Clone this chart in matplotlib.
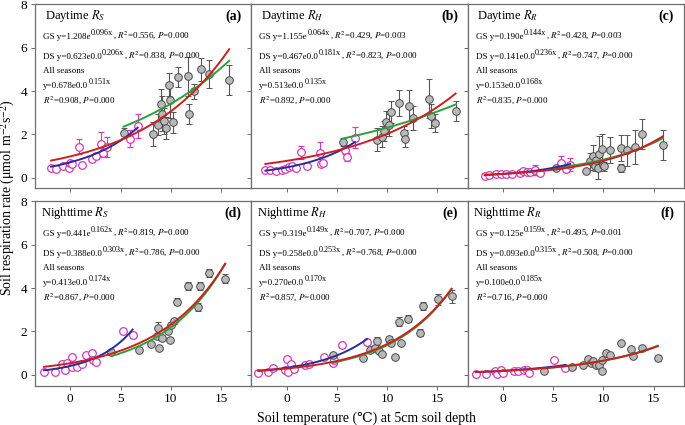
import numpy as np
import matplotlib.pyplot as plt

plt.rcParams['font.family'] = ['Liberation Serif', 'DejaVu Serif', 'DejaVu Sans']
plt.rcParams['mathtext.fontset'] = 'stix'

# ---- данные ----
# (a) Daytime Rs
ds_x_a = [-1.9, -1.4, -0.7, -0.1, 0.0, 0.2, 0.9, 1.2, 2.2, 2.6, 3.1, 3.3, 3.7, 5.9, 6.7]
ds_y_a = [0.45, 0.42, 0.52, 0.45, 0.68, 0.62, 1.42, 0.58, 0.85, 1.0, 1.55, 1.15, 1.42, 1.8, 2.37]
ds_e_a = [0.03, 0.03, 0.05, 0.1, 0.05, 0.05, 0.35, 0.05, 0.1, 0.15, 0.55, 0.2, 0.45, 0.4, 0.55]
gs_x_a = [5.3, 8.25, 8.7, 9.0, 9.1, 9.3, 9.5, 9.8, 9.9, 10.2, 10.7, 11.7, 11.8, 12.3, 13.0, 13.8, 15.8]
gs_y_a = [2.06, 2.0, 2.45, 3.38, 2.95, 2.6, 2.3, 4.3, 3.57, 2.55, 4.65, 4.68, 2.95, 3.98, 5.0, 4.8, 4.5]
gs_e_a = [0.25, 0.55, 0.5, 0.7, 0.8, 0.6, 0.5, 0.55, 0.8, 0.5, 0.45, 0.9, 0.45, 0.35, 0.55, 0.65, 0.7]

# (b) Daytime Rh
ds_x_b = [-2.1, -1.6, -1.0, -0.5, -0.2, 0.2, 0.5, 0.9, 1.4, 2.0, 3.3, 3.4, 3.6, 5.8, 6.0, 6.8]
ds_y_b = [0.37, 0.37, 0.33, 0.35, 0.42, 0.5, 0.52, 0.46, 1.17, 0.55, 1.13, 0.62, 0.7, 1.3, 0.95, 1.85]
ds_e_b = [0.03, 0.03, 0.03, 0.05, 0.05, 0.05, 0.05, 0.05, 0.3, 0.05, 0.5, 0.1, 0.1, 0.2, 0.2, 0.5]
gs_x_b = [5.6, 9.0, 9.5, 9.65, 9.9, 10.2, 10.4, 11.2, 11.7, 11.8, 12.2, 12.6, 14.2, 14.4, 14.8, 16.8]
gs_y_b = [1.64, 1.76, 1.9, 2.15, 2.55, 2.42, 3.02, 3.46, 2.07, 1.8, 3.33, 2.76, 3.65, 2.85, 2.53, 3.07]
gs_e_b = [0.2, 0.55, 0.5, 0.45, 0.55, 0.5, 0.5, 0.6, 0.3, 0.4, 0.7, 0.55, 0.9, 0.55, 0.4, 0.45]

# (c) Daytime Rr
ds_x_c = [-1.8, -1.4, -0.7, -0.2, 0.35, 0.9, 1.7, 2.0, 2.4, 2.7, 3.2, 3.7, 5.8, 6.3, 6.7]
ds_y_c = [0.09, 0.12, 0.16, 0.17, 0.18, 0.15, 0.2, 0.3, 0.28, 0.24, 0.35, 0.22, 0.7, 0.42, 0.6]
ds_e_c = [0.02, 0.02, 0.03, 0.03, 0.03, 0.03, 0.05, 0.1, 0.1, 0.05, 0.25, 0.05, 0.3, 0.15, 0.3]
gs_x_c = [5.3, 8.3, 8.7, 9.0, 9.2, 9.3, 9.5, 9.6, 9.9, 9.95, 10.1, 10.6, 11.7, 11.75, 12.35, 13.1, 13.8, 15.9]
gs_y_c = [0.45, 0.29, 0.75, 0.99, 0.52, 0.8, 0.45, 1.11, 1.33, 0.6, 0.52, 1.26, 1.37, 0.45, 1.26, 1.42, 2.02, 1.5]
gs_e_c = [0.1, 0.05, 0.4, 0.5, 0.2, 0.3, 0.5, 0.8, 0.7, 0.2, 0.2, 0.6, 0.6, 0.2, 0.7, 0.8, 0.7, 0.7]

# (d) Nighttime Rs
ds_x_d = [-2.6, -1.55, -0.8, -0.5, -0.3, 0.15, 0.2, 0.7, 1.15, 1.55, 2.2, 2.3, 2.6, 5.2, 6.2]
ds_y_d = [0.11, 0.14, 0.5, 0.23, 0.55, 0.8, 0.37, 0.35, 0.48, 0.89, 1.0, 0.7, 0.6, 2.02, 1.83]
ds_e_d = [0.03, 0.03, 0.04, 0.03, 0.04, 0.05, 0.04, 0.04, 0.04, 0.05, 0.05, 0.05, 0.05, 0.08, 0.15]
gs_x_d = [4.1, 6.8, 8.0, 8.6, 8.7, 8.8, 9.15, 9.7, 9.9, 10.0, 10.3, 10.65, 11.7, 12.7, 12.9, 13.8, 15.4]
gs_y_d = [1.07, 1.15, 1.42, 1.8, 2.15, 1.23, 1.69, 2.04, 1.62, 2.28, 2.48, 3.37, 4.1, 3.12, 4.1, 4.7, 4.43]
gs_e_d = [0.05, 0.05, 0.05, 0.1, 0.3, 0.05, 0.05, 0.1, 0.05, 0.1, 0.1, 0.15, 0.2, 0.2, 0.2, 0.2, 0.2]

# (e) Nighttime Rh
ds_x_e = [-2.8, -1.8, -1.3, -0.2, 0.0, 0.1, 0.45, 0.7, 1.8, 2.2, 3.7, 4.6, 4.7, 5.5, 8.0]
ds_y_e = [0.1, 0.11, 0.32, 0.2, 0.74, 0.13, 0.5, 0.27, 0.45, 0.48, 0.82, 0.53, 0.7, 1.35, 1.5]
ds_e_e = [0.03, 0.03, 0.03, 0.03, 0.05, 0.03, 0.04, 0.03, 0.04, 0.04, 0.05, 0.04, 0.05, 0.06, 0.15]
gs_x_e = [4.6, 7.6, 8.3, 8.8, 9.0, 9.2, 9.5, 10.2, 10.4, 10.75, 11.2, 11.4, 12.1, 13.3, 13.6, 15.05, 16.4]
gs_y_e = [0.9, 0.77, 1.12, 1.22, 1.55, 1.08, 0.96, 1.64, 1.45, 0.8, 2.45, 1.45, 2.59, 1.94, 3.18, 3.48, 3.62]
gs_e_e = [0.05, 0.05, 0.05, 0.05, 0.2, 0.05, 0.05, 0.15, 0.05, 0.05, 0.2, 0.05, 0.15, 0.15, 0.2, 0.25, 0.3]

# (f) Nighttime Rr
ds_x_f = [-2.7, -1.65, -0.8, -0.55, -0.15, 0.05, 1.1, 1.55, 2.15, 2.4, 2.6, 5.1, 6.2]
ds_y_f = [0.03, 0.03, 0.15, 0.03, 0.23, 0.06, 0.16, 0.15, 0.2, 0.23, 0.08, 0.66, 0.3]
ds_e_f = [0.02, 0.02, 0.02, 0.02, 0.03, 0.02, 0.02, 0.02, 0.03, 0.03, 0.02, 0.04, 0.05]
gs_x_f = [4.1, 6.85, 8.0, 8.5, 8.75, 9.0, 9.3, 9.6, 9.85, 9.9, 10.3, 10.6, 11.7, 12.7, 12.9, 13.8, 15.4]
gs_y_f = [0.16, 0.36, 0.43, 0.73, 0.54, 0.61, 0.43, 0.47, 0.69, 0.16, 1.02, 0.9, 1.48, 1.17, 0.88, 1.23, 0.78]
gs_e_f = [0.03, 0.03, 0.03, 0.05, 0.05, 0.05, 0.05, 0.05, 0.05, 0.05, 0.05, 0.05, 0.08, 0.05, 0.1, 0.08, 0.15]

# параметры кривых y = a*exp(b*x), как они нарисованы (GS / DS / все сезоны)
gs_fit_a = [1.55, 1.32, 0.223, 0.45, 0.26, 0.17]
gs_fit_b = [0.079, 0.056, 0.132, 0.158, 0.166, 0.134]
ds_fit_a = [0.71, 0.474, 0.173, 0.403, 0.32, 0.178]
ds_fit_b = [0.176, 0.183, 0.194, 0.265, 0.205, 0.149]
all_fit_a = [0.98, 0.774, 0.173, 0.532, 0.283, 0.175]
all_fit_b = [0.114, 0.096, 0.151, 0.147, 0.161, 0.131]

titles = ["Daytime $R_S$", "Daytime $R_H$", "Daytime $R_R$",
          "Nighttime $R_S$", "Nighttime $R_H$", "Nighttime $R_R$"]
letters = ["(a)", "(b)", "(c)", "(d)", "(e)", "(f)"]

# подписи уравнений: основа / показатель степени / хвост
gs_pre = ["GS y=1.208e", "GS y=1.155e", "GS y=0.190e", "GS y=0.441e", "GS y=0.319e", "GS y=0.125e"]
gs_sup = ["0.096x", "0.064x", "0.144x", "0.162x", "0.149x", "0.159x"]
gs_post = [", $R^2$=0.556, $P$=0.000", ", $R^2$=0.429, $P$=0.003", ", $R^2$=0.428, $P$=0.003",
           ", $R^2$=0.819, $P$=0.000", ", $R^2$=0.707, $P$=0.000", ", $R^2$=0.495, $P$=0.001"]
ds_pre = ["DS y=0.623e0.0", "DS y=0.467e0.0", "DS y=0.141e0.0",
          "DS y=0.388e0.0", "DS y=0.258e0.0", "DS y=0.093e0.0"]
ds_sup = ["0.206x", "0.181x", "0.236x", "0.303x", "0.253x", "0.315x"]
ds_post = [", $R^2$=0.838, $P$=0.000", ", $R^2$=0.823, $P$=0.000", ", $R^2$=0.747, $P$=0.000",
           ", $R^2$=0.786, $P$=0.000", ", $R^2$=0.768, $P$=0.000", ", $R^2$=0.508, $P$=0.000"]
all_pre = ["y=0.678e0.0", "y=0.513e0.0", "y=0.153e0.0", "y=0.413e0.0", "y=0.270e0.0", "y=0.100e0.0"]
all_sup = ["0.151x", "0.135x", "0.168x", "0.174x", "0.170x", "0.185x"]
all_r2 = ["$R^2$=0.908, $P$=0.000", "$R^2$=0.892, $P$=0.000", "$R^2$=0.835, $P$=0.000",
          "$R^2$=0.867, $P$=0.000", "$R^2$=0.857, $P$=0.000", "$R^2$=0.716, $P$=0.000"]

ds_x = [ds_x_a, ds_x_b, ds_x_c, ds_x_d, ds_x_e, ds_x_f]
ds_y = [ds_y_a, ds_y_b, ds_y_c, ds_y_d, ds_y_e, ds_y_f]
ds_e = [ds_e_a, ds_e_b, ds_e_c, ds_e_d, ds_e_e, ds_e_f]
gs_x = [gs_x_a, gs_x_b, gs_x_c, gs_x_d, gs_x_e, gs_x_f]
gs_y = [gs_y_a, gs_y_b, gs_y_c, gs_y_d, gs_y_e, gs_y_f]
gs_e = [gs_e_a, gs_e_b, gs_e_c, gs_e_d, gs_e_e, gs_e_f]

magenta = "#d03cb8"
frame = "#6e6e6e"
FS = 6.5


def eq_line(ax, y, pre, sup, post=None):
    # основа, потом крупный показатель степени сверху, потом хвост на той же строке
    t1 = ax.text(0.037, y, pre, transform=ax.transAxes, fontsize=FS, va="baseline")
    t2 = ax.annotate(sup, xy=(1, 0.5), xycoords=t1, xytext=(0.3, 0),
                     textcoords="offset points", fontsize=FS * 0.9, va="bottom")
    if post:
        ax.annotate(post, xy=(1, 0), xycoords=(t2, t1), fontsize=FS, va="bottom")


fig = plt.figure(figsize=(6.85, 4.25), dpi=100)
lefts = [0.0511, 0.3669, 0.6827]
bottoms = [0.5565, 0.0929]
w, h = 0.3158, 0.433

for i in range(6):
    row, col = divmod(i, 3)
    ax = fig.add_axes([lefts[col], bottoms[row], w, h])

    ax.errorbar(ds_x[i], ds_y[i], yerr=ds_e[i], fmt="o", ms=5.5, mfc="white",
                mec=magenta, mew=0.9, ecolor=magenta, elinewidth=0.8,
                capsize=2, capthick=0.8, zorder=2)
    ax.errorbar(gs_x[i], gs_y[i], yerr=gs_e[i], fmt="o", ms=5.5, mfc="#b9b9b9",
                mec="#4a4a4a", mew=0.7, ecolor="#555555", elinewidth=0.8,
                capsize=2, capthick=0.8, zorder=2)

    xd = np.linspace(min(ds_x[i]), max(ds_x[i]), 100)
    xg = np.linspace(min(gs_x[i]), max(gs_x[i]), 100)
    xa = np.linspace(min(ds_x[i]), max(gs_x[i]), 150)
    ax.plot(xg, gs_fit_a[i] * np.exp(gs_fit_b[i] * xg), color="#2ca03c", lw=1.4, zorder=3)
    ax.plot(xd, ds_fit_a[i] * np.exp(ds_fit_b[i] * xd), color="#2b2b9c", lw=1.4, zorder=3)
    ax.plot(xa, all_fit_a[i] * np.exp(all_fit_b[i] * xa), color="#cc2020", lw=1.4, zorder=4)

    ax.set_xlim(-3.5, 18)
    ax.set_ylim(-0.5, 8)
    ax.set_xticks([0, 5, 10, 15])
    ax.set_yticks([0, 2, 4, 6, 8])
    ax.tick_params(direction="out", length=3, width=0.7, color=frame, labelsize=9.5, pad=2.5)
    if row == 0:
        ax.set_xticklabels([])
    if col > 0:
        ax.set_yticklabels([])
    for sp in ax.spines.values():
        sp.set_color(frame)
        sp.set_linewidth(0.9)

    tx = 0.045 if row == 0 else 0.026
    ax.text(tx, 0.935, titles[i], transform=ax.transAxes, fontsize=9, va="center")
    ax.text(0.955, 0.935, letters[i], transform=ax.transAxes, fontsize=10,
            fontweight="bold", va="center", ha="right")
    eq_line(ax, 0.81, gs_pre[i], gs_sup[i], gs_post[i])
    eq_line(ax, 0.706, ds_pre[i], ds_sup[i], ds_post[i])
    ax.text(0.037, 0.63, "All seasons", transform=ax.transAxes, fontsize=FS, va="baseline")
    eq_line(ax, 0.548, all_pre[i], all_sup[i])
    ax.text(0.037, 0.468, all_r2[i], transform=ax.transAxes, fontsize=FS, va="baseline")

fig.text(0.012, 0.535, "Soil respiration rate (μmol m$^{-2}$s$^{-2}$)", rotation=90,
         fontsize=10, ha="center", va="center")
fig.text(0.535, 0.017, "Soil temperature (℃) at 5cm soil depth", fontsize=10,
         ha="center", va="center")

fig.savefig("out.png", dpi=100)
